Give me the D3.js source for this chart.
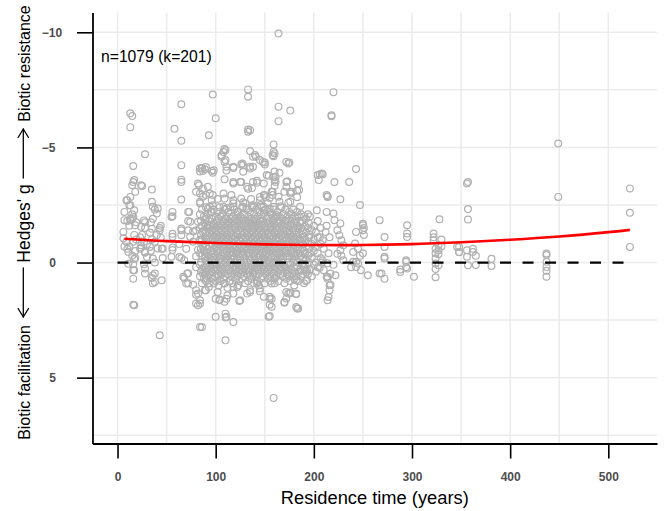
<!DOCTYPE html>
<html>
<head>
<meta charset="utf-8">
<script src="https://cdn.jsdelivr.net/npm/d3@7"></script>
<style>
  html, body { margin: 0; padding: 0; background: #fff; }
  svg { display: block; }
</style>
</head>
<body>
<svg id="chart" width="664" height="511"></svg>
<script>
// ---- DATA ----
// Each row: [residence time (years), Hedges' g values observed at that time...]
const sparseObservations = [
  [6, -1.33, -1.05], [7, -2.2, -1.84, -0.7], [9, -2.71, -0.9], [10, -0.6, -1.8, -2.71],
  [11, -0.46, 0.05], [12, -0.7, -1.6, -2.49], [13, -6.48, -5.88, -2.85, -1.84, -2.49, -1.9],
  [15, -6.36, -3.36, -0.3, -2.1, -1.9], [16, -4.19, -3.5, -1.98, 0.07, 0.33, 0.7, 1.83, -0.9],
  [17, -3.58, -0.15, 0.33, -1.2, -2.27, 1.86], [18, -3.07, -1.62, -0.2, -0.5], [19, -1.75, -1.0],
  [23, -0.6, -1.1], [24, -3.36, -1.55, -0.75, -0.65], [25, -3.32, -1.2], [27, -1.83, 0.07, -0.9],
  [28, -4.7, -1.75, -1.5, -0.43, -0.46, 0.26, 0.48], [30, -0.24, -0.8], [33, -0.68, -1.3],
  [34, -1.75, -0.5], [35, -3.17, -2.64, -1.47, -1.0, 0.67], [36, -2.42, -1.9, -0.17, 0.55, 0.9],
  [38, -2.3, 0, 0.48, 0.84, -0.9], [40, -2.13, -1.2], [41, -2.35, -0.61], [43, -1.5, -1.4, 3.16],
  [44, -1.6, -1.08], [45, -0.6, 0.77], [46, -0.61, -0.2],
  [55, -1.98, -0.25], [56, -2.2, -2.01, -1.25, -1.12, -0.54, -0.65], [58, -5.81],
  [63, -0.8, -0.24], [65, -6.87, -5.29, -4.23, -3.6, -3.5, -2.74, -1.4, -1.19, -1.48, -0.2],
  [67, 0.62], [68, -0.1, 0.68], [70, 0.91, -0.6], [71, 0.48], [72, -1.8, -2.2, -1.4, 0.46, 0.9],
  [73, -2.2], [74, -1.77, -1.12], [77, -1.35, -0.9, 0.97],
  [80, -3.07, -1.4, -0.27, 0.2, 1.2, 1.4, 1.78], [82, -3.43, -1.77, -0.56, 1.35, 1.85], [83, -3.36],
  [84, -4.09, -3.95, -2.64, -3.0, -2.57, -1.0, 1.64, 1.78, 2.8], [86, -4.08, -4.11, 2.8],
  [87, -3.98, -3.2, -2.86, -1.33, -0.7, 0.48], [89, -4.05, -1.84, -0.27, 1.2], [90, -4.15, -2.93, 0.25, 1.2],
  [91, 0.7], [92, -3.29, -2.35, -1.62], [93, -5.53, 1.06], [94, -3.0, -2.42], [96, -3.98, -2.71, -2.2],
  [97, -7.3, -3.9, -2.49, -2.93], [98, -4.01, 0.91], [100, -6.27, 2.36, 1.57],
  [102, -2.76, 1.28], [104, 1.61, 1.64], [106, -4.66, -4.6], [108, -4.8, -3.0, -2.42],
  [109, -4.93, -4.37, -3.62, -2.78, 0.91, 1.7], [110, -4.88, -4.45, 2.22, 2.39, 3.38],
  [111, -4.16, -4.0, -2.35, 1.57, 2.36], [112, 1.42], [116, -2.93],
  [118, -4.16, -4.11, -3.5, -3.43, -2.7, -2.57, -2.42, 1.06, 1.35, 2.58], [122, -2.2, 1.06], [124, 1.67],
  [125, -3.5, 1.64], [126, -4.26, -3.5, -2.78], [127, -4.3], [128, -4.23, -3.94, -2.62, -2.42], [130, -2.57],
  [132, -3.29, -2.35, 1.35], [133, -7.52, -7.2, -5.78, -5.68, -3.2], [135, -5.75, -4.84, -4.16, -4.08, 1.2, 1.28],
  [136, -2.76], [137, -3.24], [138, -4.6, -4.16, -3.5, -2.49], [139, -2.42], [140, -4.67], [141, -4.59],
  [142, -3.55, -3.47, 0.91], [145, -4.45, -2.85, -2.71, 1.13, 1.25], [146, -2.5], [148, -4.37],
  [149, -2.93, -2.42, -2.27, -3.43, 1.49], [150, -4.35, -4.26, -2.92], [151, -2.84], [152, -3.8], [153, -2.57],
  [154, -3.77, 2.35], [155, -2.8, -2.35, 1.49, 1.57, 1.83, 2.32], [157, -3.07, 0.91, 1.57, 1.92],
  [158, -4.66, -3.07, -2.93], [159, -5.13, -4.81, -4.62, -3.72, -2.42, 5.88], [160, -4.74, -3.95, -3.57, -3.33, 0.9],
  [161, -3.72, -3.5], [162, -2.06], [164, -9.95, -6.77, -6.14, -2.86], [165, -3.9, -2.64], [166, -2.45],
  [170, -3.07, 1.71, 1.75], [172, -4.37, -3.5, -3.29, 1.28, 1.56], [173, -3.53], [174, -4.3, -2.6, 1.35],
  [175, -4.35], [176, -6.6, -3.07, -3.0, -2.64, 1.3, 1.33], [177, -3.07], [182, 1.35, 1.38, 1.93, 0.77],
  [183, -3.13, -2.84, 2.0], [184, -3.43, 2.0], [185, -3.15], [186, -2.42], [191, 0.05], [192, 0.41, 0.8],
  [193, 0.34, 0.77], [194, -2.1],
  [203, -2.27], [204, -3.8], [205, -3.58], [206, -3.84, -1.1, 0.23], [208, -3.87, 0], [209, -3.83, -0.97, -0.1],
  [210, -0.6, 0.33], [212, -1.33], [213, -2.93, -2.2, -1.6, 0.62], [214, -2.85, -2.88, 0.03, 0.62, 0.7, 1.64],
  [215, -0.4, 1.5], [216, -1.1, 0.99, 1.2], [217, 0.48, 0.96], [218, -6.4, -6.35], [220, -7.4, -2.13, 0.1],
  [221, -3.5, -1.84], [222, 0.55], [224, -1.4, -0.38], [226, -1.19], [227, -2.75, -1.7, -0.53],
  [228, -0.97, -0.3], [230, -0.75, -0.1], [236, -3.5], [238, 0.2], [240, -0.46, -0.03], [242, -0.83],
  [243, -4.06, -1.33, 0.19, -0.03], [245, -0.6, 0.04], [247, -2.5, -0.3], [248, 0.33],
  [250, -1.4, -1.62, -1.68, -0.4], [251, -1.2, -1.5], [255, 0.55],
  [267, -1.84, 0.48], [269, 0.48], [272, -1.11, -0.68, -0.25, -0.17, 0.7], [288, 0.3, 0.41],
  [294, -0.1, 0.2, -0.03], [295, -1.62, -1.26, -1.11, 0.26], [302, 0.62],
  [322, -1.26, -1.1, -0.97], [324, -0.6, -0.4, -0.17, 0.04, 0.28, 0.64], [327, -0.75, -0.53, -0.36, 0.12],
  [328, -1.88], [330, -1.0, -0.7], [346, -0.68], [348, -0.45, -0.68, -0.46], [356, -3.43, -0.53, -0.25],
  [357, -3.5, -2.32, -1.87, 0.12], [362, -0.6, -0.46], [365, -0.29, 0.11], [381, -0.16, 0.15],
  [437, -0.39, -0.33, -0.03, 0.19, 0.36, 0.62], [449, -5.17, -2.85], [522, -3.22, -2.16, -0.68]
];

// Dense core of the cloud (estimated column by column)
const denseObservations = [
  [84, -2.1, -1.5, -0.9, -0.4, 0.1, 0.6], [85, -1.8, -1.2, -0.6, 0.0, 0.4], [86, -2.3, -1.6, -1.0, -0.3, 0.3, 0.9],
  [88, -2.0, -1.4, -0.8, -0.5, 0.2, 0.7], [89, -1.7, -1.1, -0.2, 0.5], [90, -2.4, -1.9, -1.3, -0.7, -0.1, 0.4, 0.8],
  [91, -1.5, -0.9, -0.4, 0.1], [92, -2.1, -1.0, -0.6, 0.3, 0.6], [93, -1.8, -1.3, -0.3, 0.0],
  [94, -1.6, -1.1, -0.7, -0.2, 0.5, 0.9], [95, -2.2, -1.4, -0.5, 0.2], [96, -1.9, -1.2, -0.8, -0.1, 0.4],
  [97, -1.6, -1.0, -0.4, 0.1, 0.7], [98, -2.3, -1.7, -1.3, -0.6, -0.2, 0.3], [99, -1.5, -0.9, 0.0, 0.6],
  [100, -2.0, -1.4, -1.1, -0.7, -0.3, 0.2, 0.8], [101, -1.8, -1.2, -0.5, 0.1, 0.5], [102, -2.2, -1.6, -0.9, -0.4, 0.3],
  [103, -1.9, -1.3, -1.0, -0.6, -0.1, 0.6, 1.0], [104, -2.4, -1.5, -0.8, -0.2, 0.4], [105, -2.0, -1.7, -1.1, -0.5, 0.0, 0.2, 0.8],
  [106, -1.4, -0.9, -0.3, 0.5], [107, -2.1, -1.6, -1.2, -0.7, -0.1, 0.3], [108, -1.8, -1.0, -0.6, 0.1, 0.7],
  [109, -2.3, -1.5, -1.3, -0.8, -0.4, 0.4, 0.9], [110, -1.9, -1.1, -0.2, 0.0, 0.6], [111, -2.0, -1.7, -1.4, -0.9, -0.5, 0.2],
  [112, -1.6, -1.2, -0.7, -0.3, 0.5, 1.1], [113, -2.2, -1.8, -1.0, -0.1, 0.3], [114, -1.5, -0.8, -0.4, 0.1, 0.8],
  [115, -2.4, -1.9, -1.3, -0.6, -0.2, 0.4], [116, -1.7, -1.1, -0.9, -0.5, 0.0, 0.6], [117, -2.0, -1.4, -0.7, -0.3, 0.2, 0.9],
  [118, -1.8, -1.2, -0.8, -0.4, 0.1], [119, -2.3, -1.6, -1.0, -0.6, -0.2, 0.5], [120, -1.9, -1.5, -1.1, -0.7, 0.0, 0.3, 0.7],
  [121, -2.1, -1.3, -0.9, -0.4, 0.2], [122, -1.7, -1.2, -0.5, -0.1, 0.6], [123, -2.2, -1.8, -1.4, -0.8, -0.3, 0.4, 1.0],
  [124, -1.6, -1.0, -0.6, 0.1, 0.8], [125, -2.0, -1.3, -0.9, -0.2, 0.3], [126, -1.8, -1.5, -1.1, -0.7, -0.4, 0.0, 0.5],
  [127, -2.4, -1.7, -1.2, -0.5, 0.2, 0.7], [128, -1.9, -1.0, -0.8, -0.3, 0.4], [129, -2.1, -1.6, -1.3, -0.6, -0.1, 0.6],
  [130, -1.7, -1.1, -0.7, -0.2, 0.1, 0.9], [131, -2.3, -1.8, -1.4, -0.9, -0.5, 0.3], [132, -1.5, -1.2, -0.6, 0.0, 0.5],
  [133, -2.0, -1.6, -1.0, -0.4, 0.2, 0.8], [134, -1.8, -1.3, -0.8, -0.3, 0.4], [135, -2.2, -1.7, -1.1, -0.7, -0.1, 0.6],
  [136, -1.9, -1.4, -0.9, -0.5, 0.1, 0.3], [137, -2.4, -1.5, -1.2, -0.6, -0.2, 0.7], [138, -1.7, -1.0, -0.4, 0.2, 0.5],
  [139, -2.1, -1.6, -1.3, -0.8, -0.3, 0.0, 0.9], [140, -1.8, -1.1, -0.7, -0.1, 0.4], [141, -2.3, -1.9, -1.4, -0.9, -0.5, 0.2, 0.6],
  [142, -1.6, -1.2, -0.6, 0.1, 0.8], [143, -2.0, -1.5, -1.0, -0.4, 0.3], [144, -1.7, -1.3, -0.8, -0.2, 0.5, 1.0],
  [145, -2.2, -1.8, -1.1, -0.7, -0.3, 0.0], [146, -1.9, -1.4, -0.9, -0.5, 0.2, 0.7], [147, -2.4, -1.6, -1.2, -0.6, -0.1, 0.4],
  [148, -1.8, -1.0, -0.4, 0.1, 0.6], [149, -2.1, -1.7, -1.3, -0.8, -0.2, 0.3], [150, -1.6, -1.1, -0.7, -0.3, 0.0, 0.9],
  [151, -2.3, -1.5, -1.0, -0.5, 0.2, 0.5], [152, -1.9, -1.4, -0.9, -0.4, 0.4], [153, -2.0, -1.2, -0.6, -0.1, 0.7],
  [154, -1.7, -1.3, -0.8, -0.3, 0.1, 0.3], [155, -2.2, -1.8, -1.1, -0.6, 0.0, 0.6], [156, -1.5, -1.0, -0.5, 0.2, 0.8],
  [157, -2.1, -1.6, -1.2, -0.7, -0.2, 0.4], [158, -1.8, -1.4, -0.9, -0.4, 0.1], [159, -2.3, -1.7, -1.1, -0.6, 0.0, 0.5],
  [160, -1.9, -1.3, -0.8, -0.3, 0.3, 0.7], [161, -2.0, -1.5, -1.0, -0.5, 0.2], [162, -1.6, -1.2, -0.7, -0.1, 0.6],
  [163, -2.2, -1.8, -1.4, -0.9, -0.4, 0.0, 0.4], [164, -1.7, -1.1, -0.6, 0.1, 0.8], [165, -2.0, -1.5, -1.0, -0.2, 0.3],
  [166, -1.8, -1.3, -0.8, -0.4, 0.5], [167, -2.4, -1.6, -1.2, -0.7, -0.1, 0.2], [168, -1.9, -1.0, -0.5, 0.0, 0.6],
  [169, -2.1, -1.4, -0.9, -0.3, 0.4], [170, -1.7, -1.2, -0.6, 0.1, 0.9], [171, -2.3, -1.8, -1.1, -0.5, 0.2],
  [172, -1.5, -1.0, -0.4, 0.3, 0.7], [173, -2.0, -1.6, -1.3, -0.8, -0.2, 0.5], [174, -1.8, -1.1, -0.7, 0.0, 0.4],
  [175, -2.2, -1.4, -0.9, -0.3, 0.6], [176, -1.6, -1.2, -0.5, 0.1, 0.8], [177, -2.1, -1.7, -1.0, -0.4, 0.3],
  [178, -1.9, -1.3, -0.8, -0.2, 0.5], [179, -2.3, -1.5, -1.1, -0.6, 0.0], [180, -1.7, -1.0, -0.4, 0.2, 0.7, 1.0],
  [181, -2.0, -1.4, -0.9, -0.3, 0.4], [182, -1.8, -1.2, -0.7, -0.1, 0.6], [183, -2.2, -1.6, -1.0, -0.5, 0.2],
  [184, -1.5, -1.1, -0.6, 0.0, 0.8], [185, -2.0, -1.3, -0.8, -0.2, 0.4], [186, -1.7, -1.0, -0.4, 0.3],
  [187, -2.1, -1.5, -0.9, -0.3, 0.6], [188, -1.8, -1.2, -0.6, 0.1], [189, -1.4, -0.8, -0.2, 0.5],
  [190, -2.0, -1.1, -0.5, 0.2, 0.9], [191, -1.6, -1.0, -0.4, 0.3], [192, -1.9, -1.3, -0.7, -0.1],
  [194, -1.5, -0.9, -0.3, 0.5], [195, -1.7, -1.1, -0.6, 0.0], [196, -2.0, -1.2, -0.4, 0.3],
  [198, -1.4, -0.8, -0.2, 0.6], [200, -1.6, -1.0, -0.5, 0.1], [202, -1.3, -0.7, 0.0, 0.4],
  [204, -1.8, -1.1, -0.4, 0.2], [207, -1.5, -0.8, -0.2]
];

// Fitted meta-regression curve (red)
const fitResidence = [7, 50, 100, 150, 200, 250, 300, 350, 400, 450, 500, 522];
const fitHedgesG   = [-1.03, -0.93, -0.85, -0.79, -0.76, -0.76, -0.80, -0.88, -0.99, -1.13, -1.32, -1.42];

// Reference (no-effect) line
const zeroLineRange = [0, 522];

const xMajorTicks = [0, 100, 200, 300, 400, 500];
const xMinorTicks = [50, 150, 250, 350, 450];
const yMajorTicks = [-10, -5, 0, 5];
const yMinorTicks = [-7.5, -2.5, 2.5, 7.5];
const annotation = "n=1079 (k=201)";
const yTitleParts = { low: "Biotic facilitation", mid: "Hedges' g", high: "Biotic resistance" };

// ---- CHART ----
const svg = d3.select("#chart");
const panel = { left: 92.5, right: 657, top: 12.5, bottom: 443.5 };
const FONT = "Liberation Sans, Arial, sans-serif";

const x = d3.scaleLinear().domain([-25.5, 549.6]).range([panel.left, panel.right]);
const y = d3.scaleLinear().domain([-10.86, 7.86]).range([panel.top, panel.bottom]);

const points = [];
for (const row of sparseObservations.concat(denseObservations)) {
  for (let i = 1; i < row.length; i++) points.push({ t: row[0], g: row[i] });
}

const grid = svg.append("g").attr("stroke", "#ebebeb").attr("stroke-width", 1.5);
grid.selectAll(".vx").data(xMajorTicks.concat(xMinorTicks)).join("line")
  .attr("x1", d => x(d)).attr("x2", d => x(d))
  .attr("y1", panel.top).attr("y2", panel.bottom);
grid.selectAll(".hy").data(yMajorTicks.concat(yMinorTicks)).join("line")
  .attr("y1", d => y(d)).attr("y2", d => y(d))
  .attr("x1", panel.left).attr("x2", panel.right);

// Points
svg.append("g")
  .selectAll("circle").data(points).join("circle")
  .attr("cx", d => x(d.t)).attr("cy", d => y(d.g)).attr("r", 3.4)
  .attr("fill", "none").attr("stroke", "#b0b0b0")
  .attr("stroke-width", 1.2);

// Zero line
svg.append("line")
  .attr("x1", x(zeroLineRange[0])).attr("x2", x(zeroLineRange[1]))
  .attr("y1", y(0)).attr("y2", y(0))
  .attr("stroke", "#000").attr("stroke-width", 2.3).attr("stroke-dasharray", "11,11.5");

// Fitted curve
const fitData = fitResidence.map((t, i) => ({ t, g: fitHedgesG[i] }));
svg.append("path").datum(fitData)
  .attr("d", d3.line().x(d => x(d.t)).y(d => y(d.g)).curve(d3.curveNatural))
  .attr("fill", "none").attr("stroke", "#ff0000").attr("stroke-width", 2.6);

// Axes
const xAxis = svg.append("g").attr("transform", `translate(0,${panel.bottom})`)
  .call(d3.axisBottom(x).tickValues(xMajorTicks).tickSize(15).tickSizeOuter(0));
const yAxis = svg.append("g").attr("transform", `translate(${panel.left},0)`)
  .call(d3.axisLeft(y).tickValues(yMajorTicks).tickSize(15.5).tickSizeOuter(0)
    .tickFormat(d => d < 0 ? "\u2212" + Math.abs(d) : String(d)));

[xAxis, yAxis].forEach(a => {
  a.select(".domain").attr("stroke", "#000").attr("stroke-width", 1.8);
  a.selectAll(".tick line").attr("stroke", "#000").attr("stroke-width", 1.6);
  a.selectAll(".tick text")
    .attr("fill", "#4d4d4d").attr("font-family", FONT)
    .attr("font-weight", "bold").attr("font-size", 12);
});
xAxis.selectAll(".tick text").attr("y", 33.5).attr("dy", "0.35em");
yAxis.selectAll(".tick text")
  .attr("text-anchor", "start")
  .attr("x", d => d < 0 ? -50.8 : -43.2)
  .attr("dy", "0.35em");

// Annotation
svg.append("text").attr("x", 101).attr("y", 62)
  .attr("font-family", FONT).attr("font-size", 15.7)
  .attr("fill", "#000").text(annotation);

// X title
svg.append("text").attr("x", (panel.left + panel.right) / 2).attr("y", 503.5)
  .attr("text-anchor", "middle")
  .attr("font-family", FONT).attr("font-size", 18.3)
  .attr("fill", "#000").text("Residence time (years)");

// Y title: three text pieces with arrows between them
const titleBaseX = 29.5;
function rotText(txt, cy, size) {
  svg.append("text")
    .attr("transform", `translate(${titleBaseX},${cy}) rotate(-90)`)
    .attr("text-anchor", "middle")
    .attr("font-family", FONT).attr("font-size", size)
    .attr("fill", "#000").text(txt);
}
rotText(yTitleParts.low, 382.5, 16);
rotText(yTitleParts.mid, 223.5, 17.5);
rotText(yTitleParts.high, 63.5, 16);

const arrowX = 23.3;
function arrow(yTail, yTip) {
  const dir = yTip < yTail ? 1 : -1; // head barbs go back toward tail
  const g = svg.append("g").attr("stroke", "#000").attr("stroke-width", 1.3)
    .attr("fill", "none").attr("stroke-linecap", "round").attr("stroke-linejoin", "round");
  g.append("line").attr("x1", arrowX).attr("x2", arrowX).attr("y1", yTail).attr("y2", yTip);
  g.append("path").attr("d",
    `M${arrowX - 5.2},${yTip + dir * 8.5} L${arrowX},${yTip} L${arrowX + 5.2},${yTip + dir * 8.5}`);
}
arrow(178, 129);
arrow(268, 317);
</script>
</body>
</html>
